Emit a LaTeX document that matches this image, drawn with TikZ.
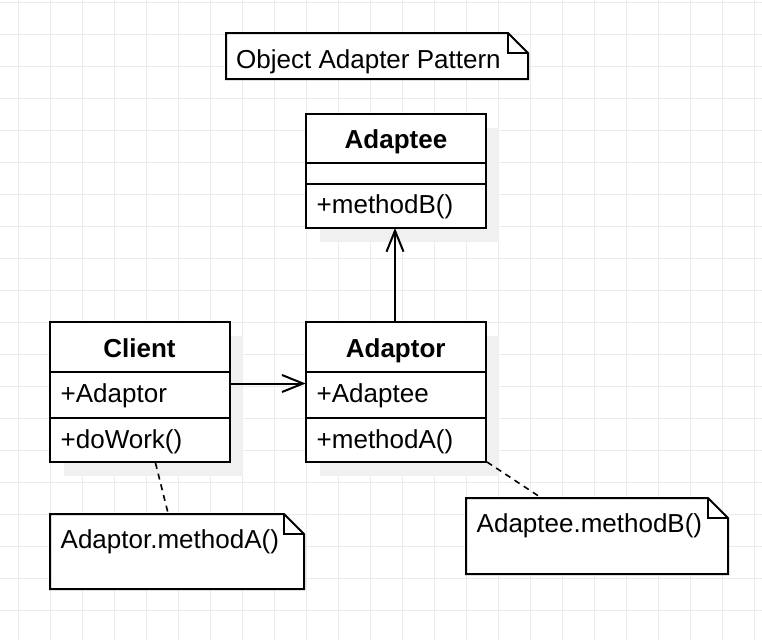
\documentclass[tikz,border=0pt]{standalone}
\usepackage{fontspec}
\setmainfont{Liberation Sans}
\usetikzlibrary{arrows.meta,calc}
\definecolor{gridc}{RGB}{235,235,235}
\definecolor{shadowc}{RGB}{240,240,240}
\begin{document}
\begin{tikzpicture}[x=1pt,y=-1pt,
  every node/.style={font=\fontsize{26}{30}\selectfont},
  classbox/.style={draw, fill=white, line width=2pt, rectangle, inner sep=0pt, outer sep=0pt, anchor=north west, minimum width=#1},
  classbox/.default=180pt,
  noteframe/.style={inner sep=0pt, outer sep=0pt, anchor=north west},
  notepath/.style={draw, fill=white, line width=2pt, line join=miter},
  lbl/.style={anchor=base west, inner sep=0pt},
  ttl/.style={anchor=base, inner sep=0pt, font=\fontsize{26}{30}\selectfont\bfseries},
  shd/.style={fill=shadowc},
  assoc/.style={line width=2pt, -{Straight Barb[length=21pt, width=17pt, line width=2pt]}},
  notelink/.style={line width=1.6pt, dash pattern=on 6pt off 5pt}
]
\useasboundingbox (0,0) rectangle (762,640);
\fill[white] (0,0) rectangle (762,640);
% grid
\foreach \gx in {18,50,...,760} \draw[gridc, line width=1pt] (\gx,0) -- (\gx,640);
\foreach \gy in {2,34,...,640} \draw[gridc, line width=1pt] (0,\gy) -- (762,\gy);

% shadows
\fill[shd] (320,128) rectangle (499,242);
\fill[shd] (64,336) rectangle (243,476);
\fill[shd] (320,336) rectangle (499,476);

% title note
\node[noteframe, minimum width=302pt, minimum height=46pt] (title) at (226,33) {};
\draw[notepath] (title.north west) -- ($(title.north east)+(-20,0)$) -- ($(title.north east)+(0,20)$) -- (title.south east) -- (title.south west) -- cycle;
\draw[line width=2pt] ($(title.north east)+(-20,0)$) -- ($(title.north east)+(-20,20)$) -- ($(title.north east)+(0,20)$);
\node[lbl] (titletext) at (236,68) {Object Adapter Pattern};

% Adaptee
\node[classbox, minimum height=114pt] (adaptee) at (306,114) {};
\draw[line width=2pt] (306,163) -- (486,163);
\draw[line width=2pt] (306,184) -- (486,184);
\node[ttl] (adapteename) at (396,148) {Adaptee};
\node[lbl] (adapteeop) at (316.5,213) {+methodB()};

% Client
\node[classbox, minimum height=140pt] (client) at (49.5,322) {};
\draw[line width=2pt] (49.5,372) -- (229.5,372);
\draw[line width=2pt] (49.5,418) -- (229.5,418);
\node[ttl] (clientname) at (139.5,357) {Client};
\node[lbl] (clientattr) at (60.5,402) {+Adaptor};
\node[lbl] (clientop) at (60.5,448) {+doWork()};

% Adaptor
\node[classbox, minimum height=140pt] (adaptor) at (305.7,322) {};
\draw[line width=2pt] (305.7,372) -- (485.7,372);
\draw[line width=2pt] (305.7,418) -- (485.7,418);
\node[ttl] (adaptorname) at (395.7,357) {Adaptor};
\node[lbl] (adaptorattr) at (316.5,402) {+Adaptee};
\node[lbl] (adaptorop) at (316.5,448) {+methodA()};

% associations
\draw[assoc] (client.east |- 0,383.5) -- (adaptor.west |- 0,383.5);
\draw[assoc] (adaptor.north -| 395,0) -- (adaptee.south -| 395,0);

% note 1
\node[noteframe, minimum width=254pt, minimum height=75pt] (note1) at (50,514) {};
\draw[notepath] (note1.north west) -- ($(note1.north east)+(-20,0)$) -- ($(note1.north east)+(0,20)$) -- (note1.south east) -- (note1.south west) -- cycle;
\draw[line width=2pt] ($(note1.north east)+(-20,0)$) -- ($(note1.north east)+(-20,20)$) -- ($(note1.north east)+(0,20)$);
\node[lbl] (note1text) at (60.5,548) {Adaptor.methodA()};

% note 2
\node[noteframe, minimum width=262pt, minimum height=76pt] (note2) at (466,498) {};
\draw[notepath] (note2.north west) -- ($(note2.north east)+(-20,0)$) -- ($(note2.north east)+(0,20)$) -- (note2.south east) -- (note2.south west) -- cycle;
\draw[line width=2pt] ($(note2.north east)+(-20,0)$) -- ($(note2.north east)+(-20,20)$) -- ($(note2.north east)+(0,20)$);
\node[lbl] (note2text) at (476.5,532) {Adaptee.methodB()};

% note links
\coordinate (l1a) at (155.5,463);
\coordinate (l1b) at (168,513);
\coordinate (l2a) at (487,462);
\coordinate (l2b) at (540,497);
\draw[notelink] (l1a) -- (l1b);
\draw[notelink] (l2a) -- (l2b);
\end{tikzpicture}
\end{document}
